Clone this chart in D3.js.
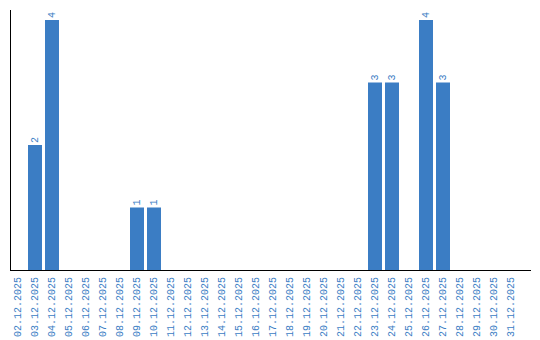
<!DOCTYPE html>
<html>
<head>
<meta charset="utf-8">
<script src="https://cdn.jsdelivr.net/npm/d3@7"></script>
<style>
  body { margin: 0; background: #fff; }
  svg text { font-family: "Liberation Mono", monospace; }
</style>
</head>
<body>
<div id="chart"></div>
<script>
const dates = [
  "02.12.2025", "03.12.2025", "04.12.2025", "05.12.2025", "06.12.2025",
  "07.12.2025", "08.12.2025", "09.12.2025", "10.12.2025", "11.12.2025",
  "12.12.2025", "13.12.2025", "14.12.2025", "15.12.2025", "16.12.2025",
  "17.12.2025", "18.12.2025", "19.12.2025", "20.12.2025", "21.12.2025",
  "22.12.2025", "23.12.2025", "24.12.2025", "25.12.2025", "26.12.2025",
  "27.12.2025", "28.12.2025", "29.12.2025", "30.12.2025", "31.12.2025"
];
const counts = [
  0, 2, 4, 0, 0,
  0, 0, 1, 1, 0,
  0, 0, 0, 0, 0,
  0, 0, 0, 0, 0,
  0, 3, 3, 0, 4,
  3, 0, 0, 0, 0
];

const width = 540, height = 340;
const barColor = '#3b7dc4';

const data = dates.map((d, i) => ({date: d, value: counts[i]}));

const svg = d3.select('#chart')
  .append('svg')
  .attr('width', width)
  .attr('height', height);

const pad = 3 / 17;
const x = d3.scaleBand()
  .domain(dates)
  .range([9.5, 519.5])
  .paddingInner(pad)
  .paddingOuter(pad / 2);

const y = d3.scaleLinear()
  .domain([0, 4])
  .range([270, 20]);

// bars
svg.append('g')
  .selectAll('rect')
  .data(data.filter(d => d.value > 0))
  .join('rect')
  .attr('x', d => x(d.date))
  .attr('y', d => y(d.value))
  .attr('width', x.bandwidth())
  .attr('height', d => y(0) - y(d.value))
  .attr('fill', barColor);

// value labels
svg.append('g')
  .selectAll('text')
  .data(data.filter(d => d.value > 0))
  .join('text')
  .attr('transform', d => `translate(${x(d.date) + x.bandwidth() / 2 + 3},${y(d.value) - 2}) rotate(-90)`)
  .attr('text-anchor', 'start')
  .attr('font-size', 10)
  .attr('fill', barColor)
  .text(d => d.value);

// axes
svg.append('line')
  .attr('x1', 10.5).attr('x2', 10.5)
  .attr('y1', 10).attr('y2', 270)
  .attr('stroke', '#000');

svg.append('line')
  .attr('x1', 10).attr('x2', 531)
  .attr('y1', 270.5).attr('y2', 270.5)
  .attr('stroke', '#000');

// category labels
svg.append('g')
  .selectAll('text')
  .data(dates)
  .join('text')
  .attr('transform', d => `translate(${x(d) + x.bandwidth() / 2 + 3},277) rotate(-90)`)
  .attr('text-anchor', 'end')
  .attr('font-size', 10)
  .attr('fill', barColor)
  .text(d => d);
</script>
</body>
</html>
